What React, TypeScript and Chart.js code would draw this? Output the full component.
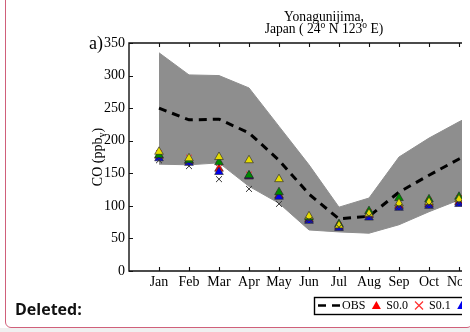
import React, { useEffect, useRef } from 'react';
import { Chart, registerables } from 'chart.js';

Chart.register(...registerables);

const months = ['Jan', 'Feb', 'Mar', 'Apr', 'May', 'Jun', 'Jul', 'Aug', 'Sep', 'Oct', 'Nov', 'Dec'];
const yTickValues = [0, 50, 100, 150, 200, 250, 300, 350];

const obs = [250, 232, 233, 212, 170, 118, 80, 84, 121, 147, 172, 196];
const bandUpper = [335, 301, 300, 281, 222, 163, 98, 112, 175, 204, 229, 252];
const bandLower = [164, 163, 166, 130, 104, 63, 60, 58, 71, 91, 109, 124];

const s00 = [177, 169, 157, 145, 116, 79, 68, 86, 100, 103, 106, 112];
const s01 = [181, 174, 158, 148, 118, 80, 70, 90, 108, 108, 112, 118];
const s02 = [173, 166, 152, 146, 114, 77, 66, 82, 97, 100, 103, 109];
const s05 = [178, 170, 167, 147, 121, 82, 72, 92, 112, 110, 114, 120];
const s10 = [183, 173, 175, 170, 141, 84, 70, 88, 104, 106, 110, 116];
const s20 = [170, 161, 141, 126, 103, 78, 67, 84, 98, 101, 104, 110];

const RED = '#ff0000';
const REDX = '#ff3030';
const BLUE = '#0000ee';
const GREEN = '#008a00';
const YELLOW = '#e6dc00';
const BLACKX = '#333333';
const BAND = '#8e8e8e';
const SERIF = '"Liberation Serif", "Times New Roman", serif';

const legendItems = [
  { label: 'OBS', kind: 'dash', color: '#000' },
  { label: 'S0.0', kind: 'tri', color: RED },
  { label: 'S0.1', kind: 'x', color: REDX },
  { label: 'S0.2', kind: 'tri', color: BLUE },
  { label: 'S0.5', kind: 'tri', color: GREEN },
  { label: 'S1.0', kind: 'tri', color: YELLOW },
  { label: 'S2.0', kind: 'x', color: BLACKX },
];

const pts = (arr: number[]) => arr.map((v, i) => ({ x: i + 1, y: v }));

const decorPlugin = {
  id: 'decor',
  afterDraw(chart: any) {
    const { ctx, chartArea: a, scales } = chart;
    const xs = scales.x;
    const ys = scales.y;
    ctx.save();
    // frame
    ctx.strokeStyle = '#111';
    ctx.lineWidth = 1.4;
    ctx.beginPath();
    ctx.moveTo(a.left, a.top);
    ctx.lineTo(a.right, a.top);
    ctx.lineTo(a.right, a.bottom);
    ctx.lineTo(a.left, a.bottom);
    ctx.closePath();
    ctx.stroke();
    // inward ticks
    ctx.lineWidth = 1.1;
    ctx.beginPath();
    for (let i = 1; i <= months.length; i++) {
      const px = Math.round(xs.getPixelForValue(i)) + 0.5;
      ctx.moveTo(px, a.bottom);
      ctx.lineTo(px, a.bottom - 4);
      ctx.moveTo(px, a.top);
      ctx.lineTo(px, a.top + 4);
    }
    for (const v of yTickValues) {
      const py = Math.round(ys.getPixelForValue(v)) + 0.5;
      ctx.moveTo(a.left, py);
      ctx.lineTo(a.left + 4, py);
    }
    ctx.stroke();

    // title
    ctx.fillStyle = '#000';
    const cx = (a.left + a.right) / 2;
    const big = `13.6px ${SERIF}`;
    const small = `9.5px ${SERIF}`;
    ctx.font = big;
    ctx.textBaseline = 'alphabetic';
    ctx.textAlign = 'center';
    ctx.fillText('Yonagunijima,', cx, 21);
    const parts: [string, boolean][] = [
      ['Japan ( 24', false],
      ['o', true],
      [' N 123', false],
      ['o', true],
      [' E)', false],
    ];
    let total = 0;
    for (const [t, sup] of parts) {
      ctx.font = sup ? small : big;
      total += ctx.measureText(t).width;
    }
    let tx = cx - total / 2;
    ctx.textAlign = 'left';
    for (const [t, sup] of parts) {
      ctx.font = sup ? small : big;
      ctx.fillText(t, tx, sup ? 28 : 33);
      tx += ctx.measureText(t).width;
    }

    // panel letter
    ctx.font = `18px ${SERIF}`;
    ctx.textAlign = 'right';
    ctx.fillText('a)', 103, 49);

    // y axis title
    ctx.save();
    ctx.translate(98, (a.top + a.bottom) / 2);
    ctx.rotate(-Math.PI / 2);
    ctx.textBaseline = 'middle';
    ctx.textAlign = 'left';
    const yparts: [string, boolean][] = [
      ['CO (ppb', false],
      ['v', true],
      [')', false],
    ];
    let yw = 0;
    for (const [t, sub] of yparts) {
      ctx.font = sub ? `10px ${SERIF}` : `14px ${SERIF}`;
      yw += ctx.measureText(t).width;
    }
    let yx = -yw / 2;
    for (const [t, sub] of yparts) {
      ctx.font = sub ? `10px ${SERIF}` : `14px ${SERIF}`;
      ctx.fillText(t, yx, sub ? 4 : 0);
      yx += ctx.measureText(t).width;
    }
    ctx.restore();

    // legend
    const lx = 314;
    const ly = 297;
    const lh = 17;
    const lcy = ly + lh / 2;
    ctx.strokeStyle = '#000';
    ctx.lineWidth = 1.4;
    ctx.strokeRect(lx + 0.5, ly + 0.5, 400, lh);
    let cur = lx + 4;
    ctx.font = `12px ${SERIF}`;
    ctx.textBaseline = 'middle';
    ctx.textAlign = 'left';
    for (const it of legendItems) {
      if (it.kind === 'dash') {
        ctx.save();
        ctx.strokeStyle = it.color;
        ctx.lineWidth = 2.5;
        ctx.setLineDash([8, 6]);
        ctx.beginPath();
        ctx.moveTo(cur, lcy);
        ctx.lineTo(cur + 22, lcy);
        ctx.stroke();
        ctx.restore();
        cur += 24;
      } else if (it.kind === 'tri') {
        const c = cur + 5;
        ctx.fillStyle = it.color;
        ctx.beginPath();
        ctx.moveTo(c, lcy - 4.5);
        ctx.lineTo(c + 4.5, lcy + 3.5);
        ctx.lineTo(c - 4.5, lcy + 3.5);
        ctx.closePath();
        ctx.fill();
        cur += 15;
      } else {
        const c = cur + 5;
        ctx.strokeStyle = it.color;
        ctx.lineWidth = 1.2;
        ctx.beginPath();
        ctx.moveTo(c - 4, lcy - 4);
        ctx.lineTo(c + 4, lcy + 4);
        ctx.moveTo(c + 4, lcy - 4);
        ctx.lineTo(c - 4, lcy + 4);
        ctx.stroke();
        cur += 15;
      }
      ctx.fillStyle = '#000';
      ctx.fillText(it.label, cur, lcy + 0.5);
      cur += ctx.measureText(it.label).width + 6;
    }
    ctx.restore();
  },
};

function triSet(label: string, data: number[], color: string, order: number) {
  return {
    label,
    data: pts(data),
    showLine: false,
    pointStyle: 'triangle',
    pointRadius: 5,
    pointBackgroundColor: color,
    pointBorderColor: '#222',
    pointBorderWidth: 0.6,
    order,
  };
}

function xSet(label: string, data: number[], color: string, order: number) {
  return {
    label,
    data: pts(data),
    showLine: false,
    pointStyle: 'crossRot',
    pointRadius: 4.2,
    pointBorderColor: color,
    pointBorderWidth: 1,
    order,
  };
}

export default function App() {
  const ref = useRef<HTMLCanvasElement | null>(null);

  useEffect(() => {
    if (!ref.current) return;
    const chart = new Chart(ref.current, {
      type: 'line',
      data: {
        datasets: [
          {
            label: 'upper',
            data: pts(bandUpper),
            fill: '+1',
            backgroundColor: BAND,
            borderColor: BAND,
            borderWidth: 1,
            pointRadius: 0,
            order: 20,
          },
          {
            label: 'lower',
            data: pts(bandLower),
            fill: false,
            borderColor: BAND,
            borderWidth: 1,
            pointRadius: 0,
            order: 19,
          },
          {
            label: 'OBS',
            data: pts(obs),
            fill: false,
            borderColor: '#000',
            borderWidth: 3,
            borderDash: [8, 6],
            pointRadius: 0,
            order: 18,
          },
          triSet('S0.0', s00, RED, 10),
          xSet('S0.1', s01, REDX, 9),
          triSet('S0.2', s02, BLUE, 8),
          triSet('S0.5', s05, GREEN, 7),
          triSet('S1.0', s10, YELLOW, 6),
          xSet('S2.0', s20, BLACKX, 5),
        ] as any,
      },
      options: {
        animation: false,
        responsive: false,
        devicePixelRatio: 1,
        layout: { padding: { top: 43, right: 11, left: 0, bottom: 0 } },
        plugins: {
          legend: { display: false },
          title: { display: false },
          tooltip: { enabled: false },
        },
        scales: {
          x: {
            type: 'linear',
            min: 0,
            max: 13,
            afterFit: (s: any) => {
              s.height = 61;
            },
            grid: { display: false, drawTicks: false },
            border: { display: false },
            ticks: {
              stepSize: 1,
              autoSkip: false,
              maxRotation: 0,
              padding: 3,
              color: '#000',
              font: { family: SERIF, size: 14 },
              callback: (v: any) => months[Number(v) - 1] ?? '',
            },
          },
          y: {
            type: 'linear',
            min: 0,
            max: 350,
            afterFit: (s: any) => {
              s.width = 129;
            },
            grid: { display: false, drawTicks: false },
            border: { display: false },
            ticks: {
              stepSize: 50,
              padding: 4,
              color: '#000',
              font: { family: SERIF, size: 14 },
            },
          },
        },
      } as any,
      plugins: [decorPlugin],
    });
    return () => chart.destroy();
  }, []);

  return (
    <div
      style={{
        position: 'fixed',
        left: 0,
        top: 0,
        width: 470,
        height: 332,
        background: '#f0f0f0',
        overflow: 'hidden',
      }}
    >
      <div style={{ position: 'absolute', left: 0, top: 0, width: 470, height: 328, background: '#fff' }} />
      <div style={{ position: 'absolute', left: 0, top: 0, width: 462, height: 326, overflow: 'hidden' }}>
        <canvas ref={ref} width={530} height={332} style={{ display: 'block', width: 530, height: 332 }} />
      </div>
      <div
        style={{
          position: 'absolute',
          left: 5,
          top: -10,
          width: 466,
          height: 336,
          border: '1.5px solid #d0607a',
          borderRadius: 6,
          pointerEvents: 'none',
        }}
      />
      <div
        style={{
          position: 'absolute',
          left: 15,
          top: 299,
          fontFamily: '"Open Sans", "Noto Sans", sans-serif',
          fontWeight: 700,
          fontSize: 16,
          color: '#111',
          lineHeight: '20px',
        }}
      >
        Deleted:
      </div>
    </div>
  );
}
